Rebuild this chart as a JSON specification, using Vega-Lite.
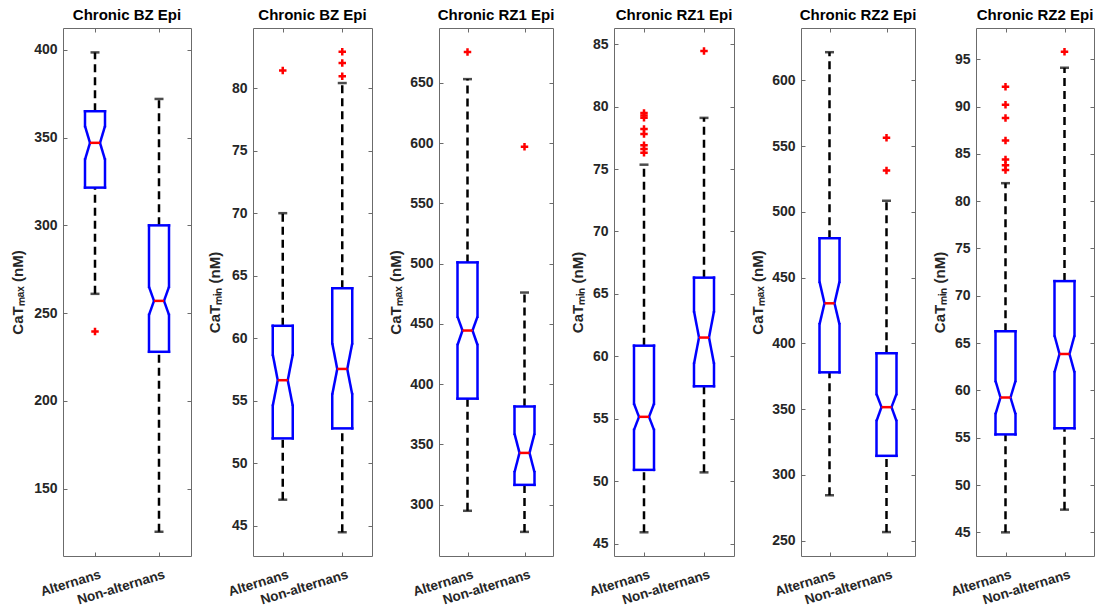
{
  "$schema": "https://vega.github.io/schema/vega-lite/v6.json",
  "background": "white",
  "padding": {"left": 9, "top": 7, "right": 0, "bottom": 0},
  "spacing": 14,
  "datasets": {
    "boxes": [
      {"panel": 1, "group": "Alternans", "lo": 261, "q1": 321.5, "nlo": 337.5, "med": 347, "nhi": 356.5, "q3": 365, "hi": 398.5},
      {"panel": 1, "group": "Non-alternans", "lo": 125.5, "q1": 228, "nlo": 249, "med": 257, "nhi": 265, "q3": 300, "hi": 372},
      {"panel": 2, "group": "Alternans", "lo": 47.1, "q1": 52.0, "nlo": 54.6, "med": 56.65, "nhi": 58.7, "q3": 61.0, "hi": 70.0},
      {"panel": 2, "group": "Non-alternans", "lo": 44.5, "q1": 52.8, "nlo": 55.5, "med": 57.55, "nhi": 59.6, "q3": 64.0, "hi": 80.4},
      {"panel": 3, "group": "Alternans", "lo": 295, "q1": 388, "nlo": 432.5, "med": 444.5, "nhi": 456, "q3": 501, "hi": 653},
      {"panel": 3, "group": "Non-alternans", "lo": 277.5, "q1": 316.5, "nlo": 327, "med": 343, "nhi": 359, "q3": 381.5, "hi": 476},
      {"panel": 4, "group": "Alternans", "lo": 45.9, "q1": 50.9, "nlo": 54.1, "med": 55.15, "nhi": 56.2, "q3": 60.85, "hi": 75.35},
      {"panel": 4, "group": "Non-alternans", "lo": 50.7, "q1": 57.6, "nlo": 59.4, "med": 61.5, "nhi": 63.6, "q3": 66.3, "hi": 79.1},
      {"panel": 5, "group": "Alternans", "lo": 284.5, "q1": 378, "nlo": 414.5, "med": 430.5, "nhi": 447, "q3": 480, "hi": 621.5},
      {"panel": 5, "group": "Non-alternans", "lo": 256.5, "q1": 314.5, "nlo": 341, "med": 351.5, "nhi": 361.5, "q3": 392.5, "hi": 508.5},
      {"panel": 6, "group": "Alternans", "lo": 45.0, "q1": 55.35, "nlo": 57.5, "med": 59.25, "nhi": 61.0, "q3": 66.25, "hi": 81.9},
      {"panel": 6, "group": "Non-alternans", "lo": 47.4, "q1": 56.0, "nlo": 61.9, "med": 63.85, "nhi": 65.8, "q3": 71.55, "hi": 94.1}
    ],
    "outliers": [
      {"panel": 1, "group": "Alternans", "value": 239.5},
      {"panel": 2, "group": "Alternans", "value": 81.4},
      {"panel": 2, "group": "Non-alternans", "value": 80.95},
      {"panel": 2, "group": "Non-alternans", "value": 82.0},
      {"panel": 2, "group": "Non-alternans", "value": 82.9},
      {"panel": 3, "group": "Alternans", "value": 675.5},
      {"panel": 3, "group": "Non-alternans", "value": 597},
      {"panel": 4, "group": "Alternans", "value": 79.5},
      {"panel": 4, "group": "Alternans", "value": 79.3},
      {"panel": 4, "group": "Alternans", "value": 79.1},
      {"panel": 4, "group": "Alternans", "value": 78.2},
      {"panel": 4, "group": "Alternans", "value": 77.8},
      {"panel": 4, "group": "Alternans", "value": 76.9},
      {"panel": 4, "group": "Alternans", "value": 76.6},
      {"panel": 4, "group": "Alternans", "value": 76.3},
      {"panel": 4, "group": "Non-alternans", "value": 84.45},
      {"panel": 5, "group": "Non-alternans", "value": 531.5},
      {"panel": 5, "group": "Non-alternans", "value": 556.5},
      {"panel": 6, "group": "Alternans", "value": 83.3},
      {"panel": 6, "group": "Alternans", "value": 83.8},
      {"panel": 6, "group": "Alternans", "value": 84.4},
      {"panel": 6, "group": "Alternans", "value": 86.4},
      {"panel": 6, "group": "Alternans", "value": 88.8},
      {"panel": 6, "group": "Alternans", "value": 90.2},
      {"panel": 6, "group": "Alternans", "value": 92.1},
      {"panel": 6, "group": "Non-alternans", "value": 95.8}
    ]
  },
  "hconcat": [
    {
      "width": 128, "height": 528,
      "title": "Chronic BZ Epi",
      "data": {"name": "boxes"},
      "transform": [{"filter": "datum.panel == 1"}],
      "encoding": {"x": {"field": "group", "type": "nominal", "scale": {"type": "point", "padding": 0.5, "domain": ["Alternans", "Non-alternans"]}, "axis": {"title": null, "labelAngle": -17, "labelAlign": "right", "labelBaseline": "top", "labelPadding": 11, "labelOffset": 3, "labelFontSize": 13.5, "grid": true, "gridDash": [4, 520]}}},
      "layer": [
        {"mark": {"type": "rule", "color": "#000000", "strokeWidth": 2.5, "strokeDash": [8, 5]}, "encoding": {"y": {"field": "q3", "type": "quantitative", "scale": {"domain": [111.7, 412.4], "nice": false, "zero": false}, "axis": {"title": "CaTₘₐₓ (nM)", "values": [150, 200, 250, 300, 350, 400], "grid": true, "gridDash": [4, 120], "labelFontSize": 14, "labelPadding": 6, "minExtent": 30, "maxExtent": 30, "titlePadding": 8}}, "y2": {"field": "hi"}}},
        {"mark": {"type": "rule", "color": "#000000", "strokeWidth": 2.5, "strokeDash": [8, 5]}, "encoding": {"y": {"field": "lo", "type": "quantitative"}, "y2": {"field": "q1"}}},
        {"mark": {"type": "tick", "color": "#000000", "thickness": 2.5, "size": 9, "orient": "horizontal"}, "encoding": {"y": {"field": "hi", "type": "quantitative"}}},
        {"mark": {"type": "tick", "color": "#000000", "thickness": 2.5, "size": 9, "orient": "horizontal"}, "encoding": {"y": {"field": "lo", "type": "quantitative"}}},
        {"mark": {"type": "rule", "color": "#0000ff", "strokeWidth": 2.5, "strokeCap": "square", "xOffset": -10, "x2Offset": 10}, "encoding": {"x2": {"field": "group"}, "y": {"field": "q3", "type": "quantitative"}}},
        {"mark": {"type": "rule", "color": "#0000ff", "strokeWidth": 2.5, "strokeCap": "square", "xOffset": -10, "x2Offset": 10}, "encoding": {"x2": {"field": "group"}, "y": {"field": "q1", "type": "quantitative"}}},
        {"mark": {"type": "rule", "color": "#0000ff", "strokeWidth": 2.5, "strokeCap": "square", "xOffset": -10}, "encoding": {"y": {"field": "nhi", "type": "quantitative"}, "y2": {"field": "q3"}}},
        {"mark": {"type": "rule", "color": "#0000ff", "strokeWidth": 2.5, "strokeCap": "square", "xOffset": 10}, "encoding": {"y": {"field": "nhi", "type": "quantitative"}, "y2": {"field": "q3"}}},
        {"mark": {"type": "rule", "color": "#0000ff", "strokeWidth": 2.5, "strokeCap": "square", "xOffset": -10}, "encoding": {"y": {"field": "q1", "type": "quantitative"}, "y2": {"field": "nlo"}}},
        {"mark": {"type": "rule", "color": "#0000ff", "strokeWidth": 2.5, "strokeCap": "square", "xOffset": 10}, "encoding": {"y": {"field": "q1", "type": "quantitative"}, "y2": {"field": "nlo"}}},
        {"mark": {"type": "rule", "color": "#0000ff", "strokeWidth": 2.5, "xOffset": -10, "x2Offset": -5}, "encoding": {"x2": {"field": "group"}, "y": {"field": "nhi", "type": "quantitative"}, "y2": {"field": "med"}}},
        {"mark": {"type": "rule", "color": "#0000ff", "strokeWidth": 2.5, "xOffset": 10, "x2Offset": 5}, "encoding": {"x2": {"field": "group"}, "y": {"field": "nhi", "type": "quantitative"}, "y2": {"field": "med"}}},
        {"mark": {"type": "rule", "color": "#0000ff", "strokeWidth": 2.5, "xOffset": -10, "x2Offset": -5}, "encoding": {"x2": {"field": "group"}, "y": {"field": "nlo", "type": "quantitative"}, "y2": {"field": "med"}}},
        {"mark": {"type": "rule", "color": "#0000ff", "strokeWidth": 2.5, "xOffset": 10, "x2Offset": 5}, "encoding": {"x2": {"field": "group"}, "y": {"field": "nlo", "type": "quantitative"}, "y2": {"field": "med"}}},
        {"mark": {"type": "rule", "color": "#ff0000", "strokeWidth": 2.5, "xOffset": -5, "x2Offset": 5}, "encoding": {"x2": {"field": "group"}, "y": {"field": "med", "type": "quantitative"}}},
        {"data": {"name": "outliers"}, "transform": [{"filter": "datum.panel == 1"}], "mark": {"type": "point", "shape": "M-1,0H1M0,-1V1", "filled": false, "color": "#ff0000", "strokeWidth": 2.5, "size": 56, "opacity": 1}, "encoding": {"y": {"field": "value", "type": "quantitative"}}}
      ]
    },
    {
      "width": 119, "height": 528,
      "title": "Chronic BZ Epi",
      "data": {"name": "boxes"},
      "transform": [{"filter": "datum.panel == 2"}],
      "encoding": {"x": {"field": "group", "type": "nominal", "scale": {"type": "point", "padding": 0.5, "domain": ["Alternans", "Non-alternans"]}, "axis": {"title": null, "labelAngle": -17, "labelAlign": "right", "labelBaseline": "top", "labelPadding": 11, "labelOffset": 3, "labelFontSize": 13.5, "grid": true, "gridDash": [4, 520]}}},
      "layer": [
        {"mark": {"type": "rule", "color": "#000000", "strokeWidth": 2.5, "strokeDash": [8, 5]}, "encoding": {"y": {"field": "q3", "type": "quantitative", "scale": {"domain": [42.6, 84.8], "nice": false, "zero": false}, "axis": {"title": "CaTₘᵢₙ (nM)", "values": [45, 50, 55, 60, 65, 70, 75, 80], "grid": true, "gridDash": [4, 111], "labelFontSize": 14, "labelPadding": 6, "minExtent": 23, "maxExtent": 23, "titlePadding": 8}}, "y2": {"field": "hi"}}},
        {"mark": {"type": "rule", "color": "#000000", "strokeWidth": 2.5, "strokeDash": [8, 5]}, "encoding": {"y": {"field": "lo", "type": "quantitative"}, "y2": {"field": "q1"}}},
        {"mark": {"type": "tick", "color": "#000000", "thickness": 2.5, "size": 9, "orient": "horizontal"}, "encoding": {"y": {"field": "hi", "type": "quantitative"}}},
        {"mark": {"type": "tick", "color": "#000000", "thickness": 2.5, "size": 9, "orient": "horizontal"}, "encoding": {"y": {"field": "lo", "type": "quantitative"}}},
        {"mark": {"type": "rule", "color": "#0000ff", "strokeWidth": 2.5, "strokeCap": "square", "xOffset": -10, "x2Offset": 10}, "encoding": {"x2": {"field": "group"}, "y": {"field": "q3", "type": "quantitative"}}},
        {"mark": {"type": "rule", "color": "#0000ff", "strokeWidth": 2.5, "strokeCap": "square", "xOffset": -10, "x2Offset": 10}, "encoding": {"x2": {"field": "group"}, "y": {"field": "q1", "type": "quantitative"}}},
        {"mark": {"type": "rule", "color": "#0000ff", "strokeWidth": 2.5, "strokeCap": "square", "xOffset": -10}, "encoding": {"y": {"field": "nhi", "type": "quantitative"}, "y2": {"field": "q3"}}},
        {"mark": {"type": "rule", "color": "#0000ff", "strokeWidth": 2.5, "strokeCap": "square", "xOffset": 10}, "encoding": {"y": {"field": "nhi", "type": "quantitative"}, "y2": {"field": "q3"}}},
        {"mark": {"type": "rule", "color": "#0000ff", "strokeWidth": 2.5, "strokeCap": "square", "xOffset": -10}, "encoding": {"y": {"field": "q1", "type": "quantitative"}, "y2": {"field": "nlo"}}},
        {"mark": {"type": "rule", "color": "#0000ff", "strokeWidth": 2.5, "strokeCap": "square", "xOffset": 10}, "encoding": {"y": {"field": "q1", "type": "quantitative"}, "y2": {"field": "nlo"}}},
        {"mark": {"type": "rule", "color": "#0000ff", "strokeWidth": 2.5, "xOffset": -10, "x2Offset": -5}, "encoding": {"x2": {"field": "group"}, "y": {"field": "nhi", "type": "quantitative"}, "y2": {"field": "med"}}},
        {"mark": {"type": "rule", "color": "#0000ff", "strokeWidth": 2.5, "xOffset": 10, "x2Offset": 5}, "encoding": {"x2": {"field": "group"}, "y": {"field": "nhi", "type": "quantitative"}, "y2": {"field": "med"}}},
        {"mark": {"type": "rule", "color": "#0000ff", "strokeWidth": 2.5, "xOffset": -10, "x2Offset": -5}, "encoding": {"x2": {"field": "group"}, "y": {"field": "nlo", "type": "quantitative"}, "y2": {"field": "med"}}},
        {"mark": {"type": "rule", "color": "#0000ff", "strokeWidth": 2.5, "xOffset": 10, "x2Offset": 5}, "encoding": {"x2": {"field": "group"}, "y": {"field": "nlo", "type": "quantitative"}, "y2": {"field": "med"}}},
        {"mark": {"type": "rule", "color": "#ff0000", "strokeWidth": 2.5, "xOffset": -5, "x2Offset": 5}, "encoding": {"x2": {"field": "group"}, "y": {"field": "med", "type": "quantitative"}}},
        {"data": {"name": "outliers"}, "transform": [{"filter": "datum.panel == 2"}], "mark": {"type": "point", "shape": "M-1,0H1M0,-1V1", "filled": false, "color": "#ff0000", "strokeWidth": 2.5, "size": 56, "opacity": 1}, "encoding": {"y": {"field": "value", "type": "quantitative"}}}
      ]
    },
    {
      "width": 114, "height": 528,
      "title": "Chronic RZ1 Epi",
      "data": {"name": "boxes"},
      "transform": [{"filter": "datum.panel == 3"}],
      "encoding": {"x": {"field": "group", "type": "nominal", "scale": {"type": "point", "padding": 0.5, "domain": ["Alternans", "Non-alternans"]}, "axis": {"title": null, "labelAngle": -17, "labelAlign": "right", "labelBaseline": "top", "labelPadding": 11, "labelOffset": 3, "labelFontSize": 13.5, "grid": true, "gridDash": [4, 520]}}},
      "layer": [
        {"mark": {"type": "rule", "color": "#000000", "strokeWidth": 2.5, "strokeDash": [8, 5]}, "encoding": {"y": {"field": "q3", "type": "quantitative", "scale": {"domain": [257.5, 695.4], "nice": false, "zero": false}, "axis": {"title": "CaTₘₐₓ (nM)", "values": [300, 350, 400, 450, 500, 550, 600, 650], "grid": true, "gridDash": [4, 106], "labelFontSize": 14, "labelPadding": 6, "minExtent": 28, "maxExtent": 28, "titlePadding": 8}}, "y2": {"field": "hi"}}},
        {"mark": {"type": "rule", "color": "#000000", "strokeWidth": 2.5, "strokeDash": [8, 5]}, "encoding": {"y": {"field": "lo", "type": "quantitative"}, "y2": {"field": "q1"}}},
        {"mark": {"type": "tick", "color": "#000000", "thickness": 2.5, "size": 9, "orient": "horizontal"}, "encoding": {"y": {"field": "hi", "type": "quantitative"}}},
        {"mark": {"type": "tick", "color": "#000000", "thickness": 2.5, "size": 9, "orient": "horizontal"}, "encoding": {"y": {"field": "lo", "type": "quantitative"}}},
        {"mark": {"type": "rule", "color": "#0000ff", "strokeWidth": 2.5, "strokeCap": "square", "xOffset": -10, "x2Offset": 10}, "encoding": {"x2": {"field": "group"}, "y": {"field": "q3", "type": "quantitative"}}},
        {"mark": {"type": "rule", "color": "#0000ff", "strokeWidth": 2.5, "strokeCap": "square", "xOffset": -10, "x2Offset": 10}, "encoding": {"x2": {"field": "group"}, "y": {"field": "q1", "type": "quantitative"}}},
        {"mark": {"type": "rule", "color": "#0000ff", "strokeWidth": 2.5, "strokeCap": "square", "xOffset": -10}, "encoding": {"y": {"field": "nhi", "type": "quantitative"}, "y2": {"field": "q3"}}},
        {"mark": {"type": "rule", "color": "#0000ff", "strokeWidth": 2.5, "strokeCap": "square", "xOffset": 10}, "encoding": {"y": {"field": "nhi", "type": "quantitative"}, "y2": {"field": "q3"}}},
        {"mark": {"type": "rule", "color": "#0000ff", "strokeWidth": 2.5, "strokeCap": "square", "xOffset": -10}, "encoding": {"y": {"field": "q1", "type": "quantitative"}, "y2": {"field": "nlo"}}},
        {"mark": {"type": "rule", "color": "#0000ff", "strokeWidth": 2.5, "strokeCap": "square", "xOffset": 10}, "encoding": {"y": {"field": "q1", "type": "quantitative"}, "y2": {"field": "nlo"}}},
        {"mark": {"type": "rule", "color": "#0000ff", "strokeWidth": 2.5, "xOffset": -10, "x2Offset": -5}, "encoding": {"x2": {"field": "group"}, "y": {"field": "nhi", "type": "quantitative"}, "y2": {"field": "med"}}},
        {"mark": {"type": "rule", "color": "#0000ff", "strokeWidth": 2.5, "xOffset": 10, "x2Offset": 5}, "encoding": {"x2": {"field": "group"}, "y": {"field": "nhi", "type": "quantitative"}, "y2": {"field": "med"}}},
        {"mark": {"type": "rule", "color": "#0000ff", "strokeWidth": 2.5, "xOffset": -10, "x2Offset": -5}, "encoding": {"x2": {"field": "group"}, "y": {"field": "nlo", "type": "quantitative"}, "y2": {"field": "med"}}},
        {"mark": {"type": "rule", "color": "#0000ff", "strokeWidth": 2.5, "xOffset": 10, "x2Offset": 5}, "encoding": {"x2": {"field": "group"}, "y": {"field": "nlo", "type": "quantitative"}, "y2": {"field": "med"}}},
        {"mark": {"type": "rule", "color": "#ff0000", "strokeWidth": 2.5, "xOffset": -5, "x2Offset": 5}, "encoding": {"x2": {"field": "group"}, "y": {"field": "med", "type": "quantitative"}}},
        {"data": {"name": "outliers"}, "transform": [{"filter": "datum.panel == 3"}], "mark": {"type": "point", "shape": "M-1,0H1M0,-1V1", "filled": false, "color": "#ff0000", "strokeWidth": 2.5, "size": 56, "opacity": 1}, "encoding": {"y": {"field": "value", "type": "quantitative"}}}
      ]
    },
    {
      "width": 120, "height": 528,
      "title": "Chronic RZ1 Epi",
      "data": {"name": "boxes"},
      "transform": [{"filter": "datum.panel == 4"}],
      "encoding": {"x": {"field": "group", "type": "nominal", "scale": {"type": "point", "padding": 0.5, "domain": ["Alternans", "Non-alternans"]}, "axis": {"title": null, "labelAngle": -17, "labelAlign": "right", "labelBaseline": "top", "labelPadding": 11, "labelOffset": 3, "labelFontSize": 13.5, "grid": true, "gridDash": [4, 520]}}},
      "layer": [
        {"mark": {"type": "rule", "color": "#000000", "strokeWidth": 2.5, "strokeDash": [8, 5]}, "encoding": {"y": {"field": "q3", "type": "quantitative", "scale": {"domain": [44.0, 86.3], "nice": false, "zero": false}, "axis": {"title": "CaTₘᵢₙ (nM)", "values": [45, 50, 55, 60, 65, 70, 75, 80, 85], "grid": true, "gridDash": [4, 112], "labelFontSize": 14, "labelPadding": 6, "minExtent": 21, "maxExtent": 21, "titlePadding": 8}}, "y2": {"field": "hi"}}},
        {"mark": {"type": "rule", "color": "#000000", "strokeWidth": 2.5, "strokeDash": [8, 5]}, "encoding": {"y": {"field": "lo", "type": "quantitative"}, "y2": {"field": "q1"}}},
        {"mark": {"type": "tick", "color": "#000000", "thickness": 2.5, "size": 9, "orient": "horizontal"}, "encoding": {"y": {"field": "hi", "type": "quantitative"}}},
        {"mark": {"type": "tick", "color": "#000000", "thickness": 2.5, "size": 9, "orient": "horizontal"}, "encoding": {"y": {"field": "lo", "type": "quantitative"}}},
        {"mark": {"type": "rule", "color": "#0000ff", "strokeWidth": 2.5, "strokeCap": "square", "xOffset": -10, "x2Offset": 10}, "encoding": {"x2": {"field": "group"}, "y": {"field": "q3", "type": "quantitative"}}},
        {"mark": {"type": "rule", "color": "#0000ff", "strokeWidth": 2.5, "strokeCap": "square", "xOffset": -10, "x2Offset": 10}, "encoding": {"x2": {"field": "group"}, "y": {"field": "q1", "type": "quantitative"}}},
        {"mark": {"type": "rule", "color": "#0000ff", "strokeWidth": 2.5, "strokeCap": "square", "xOffset": -10}, "encoding": {"y": {"field": "nhi", "type": "quantitative"}, "y2": {"field": "q3"}}},
        {"mark": {"type": "rule", "color": "#0000ff", "strokeWidth": 2.5, "strokeCap": "square", "xOffset": 10}, "encoding": {"y": {"field": "nhi", "type": "quantitative"}, "y2": {"field": "q3"}}},
        {"mark": {"type": "rule", "color": "#0000ff", "strokeWidth": 2.5, "strokeCap": "square", "xOffset": -10}, "encoding": {"y": {"field": "q1", "type": "quantitative"}, "y2": {"field": "nlo"}}},
        {"mark": {"type": "rule", "color": "#0000ff", "strokeWidth": 2.5, "strokeCap": "square", "xOffset": 10}, "encoding": {"y": {"field": "q1", "type": "quantitative"}, "y2": {"field": "nlo"}}},
        {"mark": {"type": "rule", "color": "#0000ff", "strokeWidth": 2.5, "xOffset": -10, "x2Offset": -5}, "encoding": {"x2": {"field": "group"}, "y": {"field": "nhi", "type": "quantitative"}, "y2": {"field": "med"}}},
        {"mark": {"type": "rule", "color": "#0000ff", "strokeWidth": 2.5, "xOffset": 10, "x2Offset": 5}, "encoding": {"x2": {"field": "group"}, "y": {"field": "nhi", "type": "quantitative"}, "y2": {"field": "med"}}},
        {"mark": {"type": "rule", "color": "#0000ff", "strokeWidth": 2.5, "xOffset": -10, "x2Offset": -5}, "encoding": {"x2": {"field": "group"}, "y": {"field": "nlo", "type": "quantitative"}, "y2": {"field": "med"}}},
        {"mark": {"type": "rule", "color": "#0000ff", "strokeWidth": 2.5, "xOffset": 10, "x2Offset": 5}, "encoding": {"x2": {"field": "group"}, "y": {"field": "nlo", "type": "quantitative"}, "y2": {"field": "med"}}},
        {"mark": {"type": "rule", "color": "#ff0000", "strokeWidth": 2.5, "xOffset": -5, "x2Offset": 5}, "encoding": {"x2": {"field": "group"}, "y": {"field": "med", "type": "quantitative"}}},
        {"data": {"name": "outliers"}, "transform": [{"filter": "datum.panel == 4"}], "mark": {"type": "point", "shape": "M-1,0H1M0,-1V1", "filled": false, "color": "#ff0000", "strokeWidth": 2.5, "size": 56, "opacity": 1}, "encoding": {"y": {"field": "value", "type": "quantitative"}}}
      ]
    },
    {
      "width": 114, "height": 528,
      "title": "Chronic RZ2 Epi",
      "data": {"name": "boxes"},
      "transform": [{"filter": "datum.panel == 5"}],
      "encoding": {"x": {"field": "group", "type": "nominal", "scale": {"type": "point", "padding": 0.5, "domain": ["Alternans", "Non-alternans"]}, "axis": {"title": null, "labelAngle": -17, "labelAlign": "right", "labelBaseline": "top", "labelPadding": 11, "labelOffset": 3, "labelFontSize": 13.5, "grid": true, "gridDash": [4, 520]}}},
      "layer": [
        {"mark": {"type": "rule", "color": "#000000", "strokeWidth": 2.5, "strokeDash": [8, 5]}, "encoding": {"y": {"field": "q3", "type": "quantitative", "scale": {"domain": [238.3, 639.9], "nice": false, "zero": false}, "axis": {"title": "CaTₘₐₓ (nM)", "values": [250, 300, 350, 400, 450, 500, 550, 600], "grid": true, "gridDash": [4, 106], "labelFontSize": 14, "labelPadding": 6, "minExtent": 28, "maxExtent": 28, "titlePadding": 8}}, "y2": {"field": "hi"}}},
        {"mark": {"type": "rule", "color": "#000000", "strokeWidth": 2.5, "strokeDash": [8, 5]}, "encoding": {"y": {"field": "lo", "type": "quantitative"}, "y2": {"field": "q1"}}},
        {"mark": {"type": "tick", "color": "#000000", "thickness": 2.5, "size": 9, "orient": "horizontal"}, "encoding": {"y": {"field": "hi", "type": "quantitative"}}},
        {"mark": {"type": "tick", "color": "#000000", "thickness": 2.5, "size": 9, "orient": "horizontal"}, "encoding": {"y": {"field": "lo", "type": "quantitative"}}},
        {"mark": {"type": "rule", "color": "#0000ff", "strokeWidth": 2.5, "strokeCap": "square", "xOffset": -10, "x2Offset": 10}, "encoding": {"x2": {"field": "group"}, "y": {"field": "q3", "type": "quantitative"}}},
        {"mark": {"type": "rule", "color": "#0000ff", "strokeWidth": 2.5, "strokeCap": "square", "xOffset": -10, "x2Offset": 10}, "encoding": {"x2": {"field": "group"}, "y": {"field": "q1", "type": "quantitative"}}},
        {"mark": {"type": "rule", "color": "#0000ff", "strokeWidth": 2.5, "strokeCap": "square", "xOffset": -10}, "encoding": {"y": {"field": "nhi", "type": "quantitative"}, "y2": {"field": "q3"}}},
        {"mark": {"type": "rule", "color": "#0000ff", "strokeWidth": 2.5, "strokeCap": "square", "xOffset": 10}, "encoding": {"y": {"field": "nhi", "type": "quantitative"}, "y2": {"field": "q3"}}},
        {"mark": {"type": "rule", "color": "#0000ff", "strokeWidth": 2.5, "strokeCap": "square", "xOffset": -10}, "encoding": {"y": {"field": "q1", "type": "quantitative"}, "y2": {"field": "nlo"}}},
        {"mark": {"type": "rule", "color": "#0000ff", "strokeWidth": 2.5, "strokeCap": "square", "xOffset": 10}, "encoding": {"y": {"field": "q1", "type": "quantitative"}, "y2": {"field": "nlo"}}},
        {"mark": {"type": "rule", "color": "#0000ff", "strokeWidth": 2.5, "xOffset": -10, "x2Offset": -5}, "encoding": {"x2": {"field": "group"}, "y": {"field": "nhi", "type": "quantitative"}, "y2": {"field": "med"}}},
        {"mark": {"type": "rule", "color": "#0000ff", "strokeWidth": 2.5, "xOffset": 10, "x2Offset": 5}, "encoding": {"x2": {"field": "group"}, "y": {"field": "nhi", "type": "quantitative"}, "y2": {"field": "med"}}},
        {"mark": {"type": "rule", "color": "#0000ff", "strokeWidth": 2.5, "xOffset": -10, "x2Offset": -5}, "encoding": {"x2": {"field": "group"}, "y": {"field": "nlo", "type": "quantitative"}, "y2": {"field": "med"}}},
        {"mark": {"type": "rule", "color": "#0000ff", "strokeWidth": 2.5, "xOffset": 10, "x2Offset": 5}, "encoding": {"x2": {"field": "group"}, "y": {"field": "nlo", "type": "quantitative"}, "y2": {"field": "med"}}},
        {"mark": {"type": "rule", "color": "#ff0000", "strokeWidth": 2.5, "xOffset": -5, "x2Offset": 5}, "encoding": {"x2": {"field": "group"}, "y": {"field": "med", "type": "quantitative"}}},
        {"data": {"name": "outliers"}, "transform": [{"filter": "datum.panel == 5"}], "mark": {"type": "point", "shape": "M-1,0H1M0,-1V1", "filled": false, "color": "#ff0000", "strokeWidth": 2.5, "size": 56, "opacity": 1}, "encoding": {"y": {"field": "value", "type": "quantitative"}}}
      ]
    },
    {
      "width": 118, "height": 528,
      "title": "Chronic RZ2 Epi",
      "data": {"name": "boxes"},
      "transform": [{"filter": "datum.panel == 6"}],
      "encoding": {"x": {"field": "group", "type": "nominal", "scale": {"type": "point", "padding": 0.5, "domain": ["Alternans", "Non-alternans"]}, "axis": {"title": null, "labelAngle": -17, "labelAlign": "right", "labelBaseline": "top", "labelPadding": 11, "labelOffset": 3, "labelFontSize": 13.5, "grid": true, "gridDash": [4, 520]}}},
      "layer": [
        {"mark": {"type": "rule", "color": "#000000", "strokeWidth": 2.5, "strokeDash": [8, 5]}, "encoding": {"y": {"field": "q3", "type": "quantitative", "scale": {"domain": [42.5, 98.3], "nice": false, "zero": false}, "axis": {"title": "CaTₘᵢₙ (nM)", "values": [45, 50, 55, 60, 65, 70, 75, 80, 85, 90, 95], "grid": true, "gridDash": [4, 110], "labelFontSize": 14, "labelPadding": 6, "minExtent": 21, "maxExtent": 21, "titlePadding": 8}}, "y2": {"field": "hi"}}},
        {"mark": {"type": "rule", "color": "#000000", "strokeWidth": 2.5, "strokeDash": [8, 5]}, "encoding": {"y": {"field": "lo", "type": "quantitative"}, "y2": {"field": "q1"}}},
        {"mark": {"type": "tick", "color": "#000000", "thickness": 2.5, "size": 9, "orient": "horizontal"}, "encoding": {"y": {"field": "hi", "type": "quantitative"}}},
        {"mark": {"type": "tick", "color": "#000000", "thickness": 2.5, "size": 9, "orient": "horizontal"}, "encoding": {"y": {"field": "lo", "type": "quantitative"}}},
        {"mark": {"type": "rule", "color": "#0000ff", "strokeWidth": 2.5, "strokeCap": "square", "xOffset": -10, "x2Offset": 10}, "encoding": {"x2": {"field": "group"}, "y": {"field": "q3", "type": "quantitative"}}},
        {"mark": {"type": "rule", "color": "#0000ff", "strokeWidth": 2.5, "strokeCap": "square", "xOffset": -10, "x2Offset": 10}, "encoding": {"x2": {"field": "group"}, "y": {"field": "q1", "type": "quantitative"}}},
        {"mark": {"type": "rule", "color": "#0000ff", "strokeWidth": 2.5, "strokeCap": "square", "xOffset": -10}, "encoding": {"y": {"field": "nhi", "type": "quantitative"}, "y2": {"field": "q3"}}},
        {"mark": {"type": "rule", "color": "#0000ff", "strokeWidth": 2.5, "strokeCap": "square", "xOffset": 10}, "encoding": {"y": {"field": "nhi", "type": "quantitative"}, "y2": {"field": "q3"}}},
        {"mark": {"type": "rule", "color": "#0000ff", "strokeWidth": 2.5, "strokeCap": "square", "xOffset": -10}, "encoding": {"y": {"field": "q1", "type": "quantitative"}, "y2": {"field": "nlo"}}},
        {"mark": {"type": "rule", "color": "#0000ff", "strokeWidth": 2.5, "strokeCap": "square", "xOffset": 10}, "encoding": {"y": {"field": "q1", "type": "quantitative"}, "y2": {"field": "nlo"}}},
        {"mark": {"type": "rule", "color": "#0000ff", "strokeWidth": 2.5, "xOffset": -10, "x2Offset": -5}, "encoding": {"x2": {"field": "group"}, "y": {"field": "nhi", "type": "quantitative"}, "y2": {"field": "med"}}},
        {"mark": {"type": "rule", "color": "#0000ff", "strokeWidth": 2.5, "xOffset": 10, "x2Offset": 5}, "encoding": {"x2": {"field": "group"}, "y": {"field": "nhi", "type": "quantitative"}, "y2": {"field": "med"}}},
        {"mark": {"type": "rule", "color": "#0000ff", "strokeWidth": 2.5, "xOffset": -10, "x2Offset": -5}, "encoding": {"x2": {"field": "group"}, "y": {"field": "nlo", "type": "quantitative"}, "y2": {"field": "med"}}},
        {"mark": {"type": "rule", "color": "#0000ff", "strokeWidth": 2.5, "xOffset": 10, "x2Offset": 5}, "encoding": {"x2": {"field": "group"}, "y": {"field": "nlo", "type": "quantitative"}, "y2": {"field": "med"}}},
        {"mark": {"type": "rule", "color": "#ff0000", "strokeWidth": 2.5, "xOffset": -5, "x2Offset": 5}, "encoding": {"x2": {"field": "group"}, "y": {"field": "med", "type": "quantitative"}}},
        {"data": {"name": "outliers"}, "transform": [{"filter": "datum.panel == 6"}], "mark": {"type": "point", "shape": "M-1,0H1M0,-1V1", "filled": false, "color": "#ff0000", "strokeWidth": 2.5, "size": 56, "opacity": 1}, "encoding": {"y": {"field": "value", "type": "quantitative"}}}
      ]
    }
  ],
  "config": {
    "font": "Liberation Sans",
    "view": {"stroke": "#6b6b6b", "strokeWidth": 1},
    "axis": {
      "labelFont": "Liberation Sans", "labelFontWeight": "bold", "labelFontSize": 13, "labelColor": "#262626",
      "titleFont": "Liberation Sans", "titleFontWeight": "bold", "titleFontSize": 15, "titleColor": "#262626",
      "domain": false, "ticks": false, "gridColor": "#6b6b6b", "gridOpacity": 1, "gridWidth": 1, "labelOverlap": false
    },
    "title": {"font": "Liberation Sans", "fontSize": 15, "fontWeight": "bold", "color": "#000000", "offset": 5, "anchor": "middle", "frame": "group"}
  }
}
